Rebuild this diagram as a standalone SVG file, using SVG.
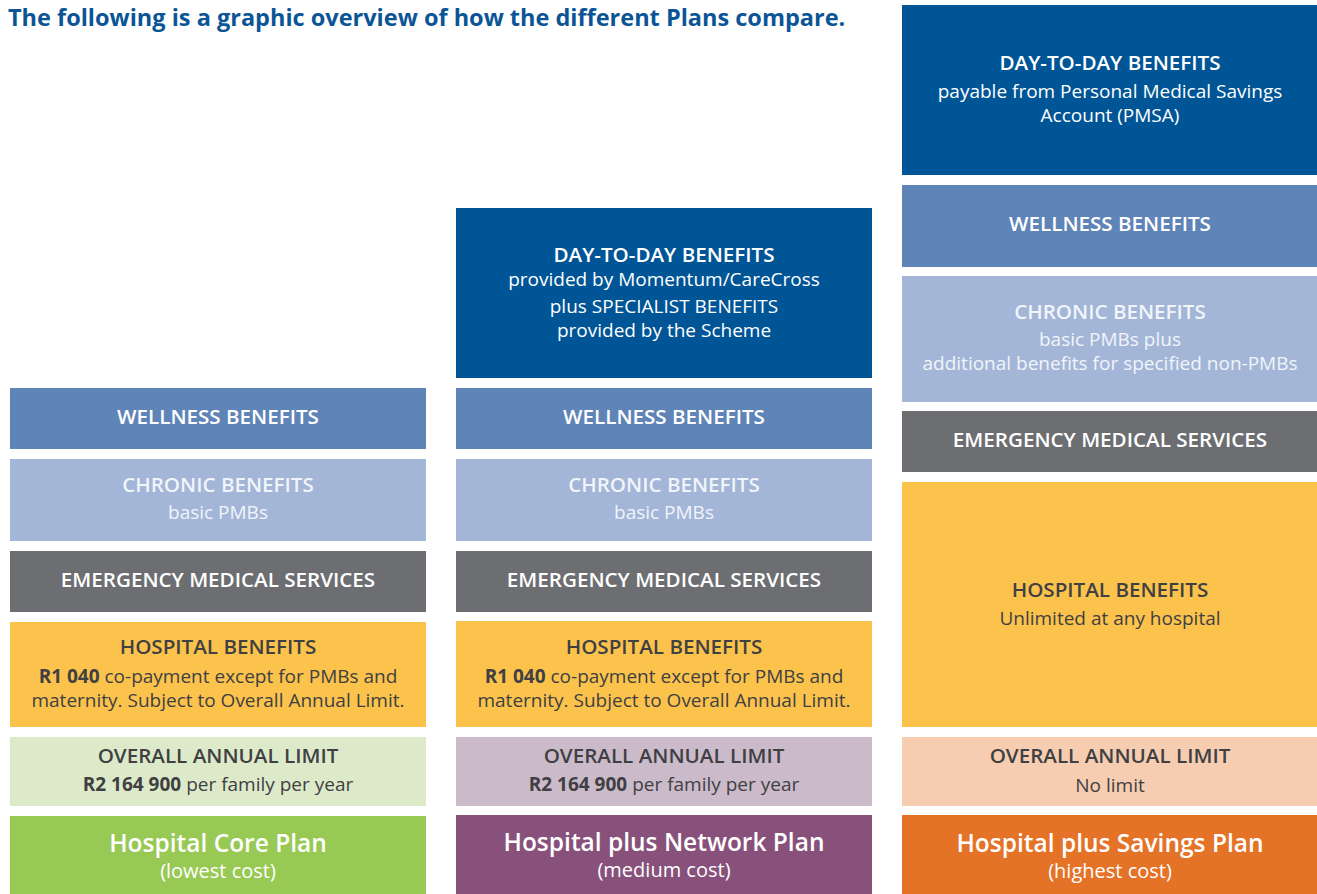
<svg xmlns="http://www.w3.org/2000/svg" width="1317" height="894" viewBox="0 0 1317 894">
<style>
text{font-family:"Open Sans","Liberation Sans",sans-serif;text-anchor:middle}
.title{font-size:23.5px;font-weight:700;fill:#0b5596;text-anchor:start}
.h{font-size:20.6px;font-weight:600}
.b{font-size:19px;font-weight:400}
.w{fill:#ffffff}
.lw{fill:#f1f4f9}
.d{fill:#404043}
.pn{font-size:24.5px;font-weight:600;fill:#ffffff}
.pc{font-size:20px;font-weight:400;fill:#ffffff}
.dtd{fill:#005596}
.well{fill:#5f84b8}
.chr{fill:#a3b6d7}
.ems{fill:#6d6e72}
.hosp{fill:#fcc34c}
</style>
<rect width="1317" height="894" fill="#ffffff"/>
<text class="title" x="8" y="26">The following is a graphic overview of how the different Plans compare.</text>

<g id="col1">
<g id="c1-wellness"><rect class="well" x="10" y="388" width="416" height="61"/><text class="h w" x="218" y="424">WELLNESS BENEFITS</text></g>
<g id="c1-chronic"><rect class="chr" x="10" y="459" width="416" height="82"/><text class="h lw" x="218" y="492">CHRONIC BENEFITS</text><text class="b lw" x="218" y="519">basic PMBs</text></g>
<g id="c1-ems"><rect class="ems" x="10" y="551" width="416" height="61"/><text class="h w" x="218" y="587">EMERGENCY MEDICAL SERVICES</text></g>
<g id="c1-hosp"><rect class="hosp" x="10" y="622" width="416" height="105"/><text class="h d" x="218" y="654">HOSPITAL BENEFITS</text><text class="b d" x="218" y="683"><tspan font-weight="700">R1 040</tspan> co-payment except for PMBs and</text><text class="b d" x="218" y="707">maternity. Subject to Overall Annual Limit.</text></g>
<g id="c1-oal"><rect fill="#ddeaca" x="10" y="737" width="416" height="69"/><text class="h d" x="218" y="763">OVERALL ANNUAL LIMIT</text><text class="b d" x="218" y="791"><tspan font-weight="700">R2 164 900</tspan> per family per year</text></g>
<g id="c1-plan"><rect fill="#97c954" x="10" y="816" width="416" height="78"/><text class="pn" x="218" y="852">Hospital Core Plan</text><text class="pc" x="218" y="878">(lowest cost)</text></g>
</g>

<g id="col2">
<g id="c2-dtd"><rect class="dtd" x="456" y="208" width="416" height="170"/><text class="h w" x="664" y="262">DAY-TO-DAY BENEFITS</text><text class="b w" x="664" y="286">provided by Momentum/CareCross</text><text class="b w" x="664" y="313">plus SPECIALIST BENEFITS</text><text class="b w" x="664" y="337">provided by the Scheme</text></g>
<g id="c2-wellness"><rect class="well" x="456" y="388" width="416" height="61"/><text class="h w" x="664" y="424">WELLNESS BENEFITS</text></g>
<g id="c2-chronic"><rect class="chr" x="456" y="459" width="416" height="82"/><text class="h lw" x="664" y="492">CHRONIC BENEFITS</text><text class="b lw" x="664" y="519">basic PMBs</text></g>
<g id="c2-ems"><rect class="ems" x="456" y="551" width="416" height="61"/><text class="h w" x="664" y="587">EMERGENCY MEDICAL SERVICES</text></g>
<g id="c2-hosp"><rect class="hosp" x="456" y="621" width="416" height="106"/><text class="h d" x="664" y="654">HOSPITAL BENEFITS</text><text class="b d" x="664" y="683"><tspan font-weight="700">R1 040</tspan> co-payment except for PMBs and</text><text class="b d" x="664" y="707">maternity. Subject to Overall Annual Limit.</text></g>
<g id="c2-oal"><rect fill="#cbbaca" x="456" y="737" width="416" height="69"/><text class="h d" x="664" y="763">OVERALL ANNUAL LIMIT</text><text class="b d" x="664" y="791"><tspan font-weight="700">R2 164 900</tspan> per family per year</text></g>
<g id="c2-plan"><rect fill="#88517b" x="456" y="815" width="416" height="79"/><text class="pn" x="664" y="851">Hospital plus Network Plan</text><text class="pc" x="664" y="877">(medium cost)</text></g>
</g>

<g id="col3">
<g id="c3-dtd"><rect class="dtd" x="902" y="5" width="415" height="170"/><text class="h w" x="1110" y="70">DAY-TO-DAY BENEFITS</text><text class="b w" x="1110" y="98">payable from Personal Medical Savings</text><text class="b w" x="1110" y="122">Account (PMSA)</text></g>
<g id="c3-wellness"><rect class="well" x="902" y="185" width="415" height="82"/><text class="h w" x="1110" y="231">WELLNESS BENEFITS</text></g>
<g id="c3-chronic"><rect class="chr" x="902" y="276" width="415" height="126"/><text class="h lw" x="1110" y="319">CHRONIC BENEFITS</text><text class="b lw" x="1110" y="346">basic PMBs plus</text><text class="b lw" x="1110" y="370">additional benefits for specified non-PMBs</text></g>
<g id="c3-ems"><rect class="ems" x="902" y="411" width="415" height="61"/><text class="h w" x="1110" y="447">EMERGENCY MEDICAL SERVICES</text></g>
<g id="c3-hosp"><rect class="hosp" x="902" y="482" width="415" height="245"/><text class="h d" x="1110" y="597">HOSPITAL BENEFITS</text><text class="b d" x="1110" y="625">Unlimited at any hospital</text></g>
<g id="c3-oal"><rect fill="#f6cdb0" x="902" y="737" width="415" height="69"/><text class="h d" x="1110" y="763">OVERALL ANNUAL LIMIT</text><text class="b d" x="1110" y="792">No limit</text></g>
<g id="c3-plan"><rect fill="#e47227" x="902" y="815" width="415" height="79"/><text class="pn" x="1110" y="852">Hospital plus Savings Plan</text><text class="pc" x="1110" y="878">(highest cost)</text></g>
</g>
<g id="connectors"/>
</svg>
